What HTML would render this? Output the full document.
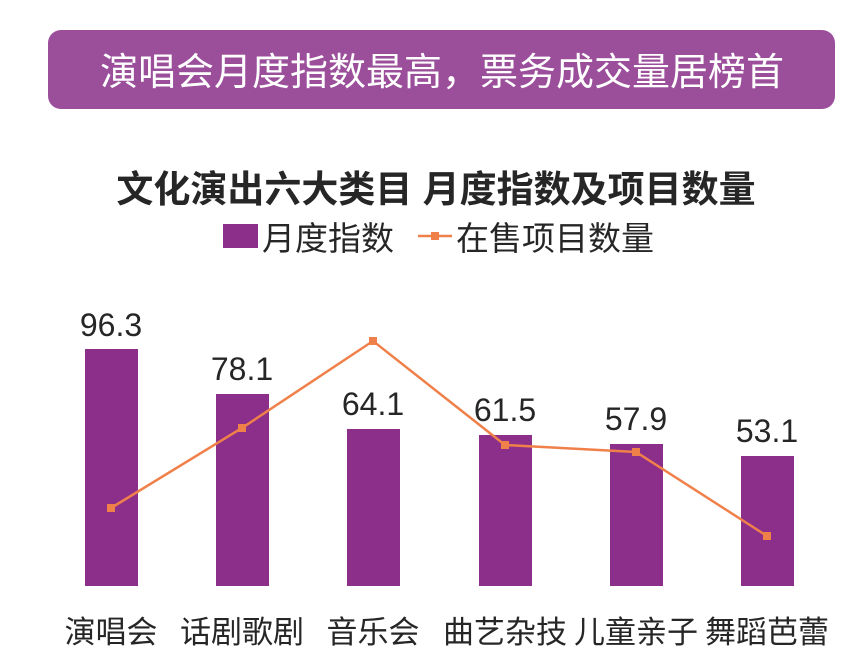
<!DOCTYPE html>
<html><head><meta charset="utf-8"><style>
body{margin:0;background:#fff;width:868px;height:655px;overflow:hidden;font-family:"Liberation Sans","Noto Sans CJK SC",sans-serif}
</style></head><body>
<svg width="868" height="655" xmlns="http://www.w3.org/2000/svg" style="position:absolute;left:0;top:0;font-family:'Liberation Sans','Noto Sans CJK SC',sans-serif">
<rect x="48" y="30" width="787" height="79" rx="13" fill="#9b4f9b"/>
<text x="442" y="85" font-size="38" fill="#fff" text-anchor="middle">演唱会月度指数最高，票务成交量居榜首</text>
<text x="436" y="202" font-size="37" font-weight="bold" fill="#262626" text-anchor="middle">文化演出六大类目 月度指数及项目数量</text>
<rect x="223" y="224" width="35" height="24" fill="#8b2f8b"/>
<text x="262" y="250" font-size="33" fill="#262626">月度指数</text>
<line x1="418" y1="236" x2="452" y2="236" stroke="#f0804a" stroke-width="2.5"/>
<rect x="431" y="232" width="8" height="8" fill="#f0804a"/>
<text x="456" y="250" font-size="33" fill="#262626">在售项目数量</text>
<g fill="#8b2f8b">
<rect x="85" y="349" width="53" height="237"/>
<rect x="216" y="394" width="53" height="192"/>
<rect x="347" y="429" width="53" height="157"/>
<rect x="479" y="435" width="53" height="151"/>
<rect x="610" y="444" width="53" height="142"/>
<rect x="741" y="456" width="53" height="130"/>
</g>
<g font-size="32" fill="#262626" text-anchor="middle">
<text x="111" y="336">96.3</text>
<text x="242" y="380">78.1</text>
<text x="373" y="415">64.1</text>
<text x="505" y="421">61.5</text>
<text x="636" y="430">57.9</text>
<text x="767" y="442">53.1</text>
</g>
<polyline points="111,508 242,428 373,341 505,445 636,452 767,536" fill="none" stroke="#f0804a" stroke-width="2.5"/>
<g fill="#f0804a">
<rect x="107" y="504" width="8" height="8"/><rect x="238" y="424" width="8" height="8"/><rect x="369" y="337" width="8" height="8"/><rect x="501" y="441" width="8" height="8"/><rect x="632" y="448" width="8" height="8"/><rect x="763" y="532" width="8" height="8"/>
</g>
<g font-size="31" fill="#262626" text-anchor="middle">
<text x="111" y="643">演唱会</text>
<text x="242" y="643">话剧歌剧</text>
<text x="373" y="643">音乐会</text>
<text x="505" y="643">曲艺杂技</text>
<text x="636" y="643">儿童亲子</text>
<text x="767" y="643">舞蹈芭蕾</text>
</g>
</svg>
</body></html>
